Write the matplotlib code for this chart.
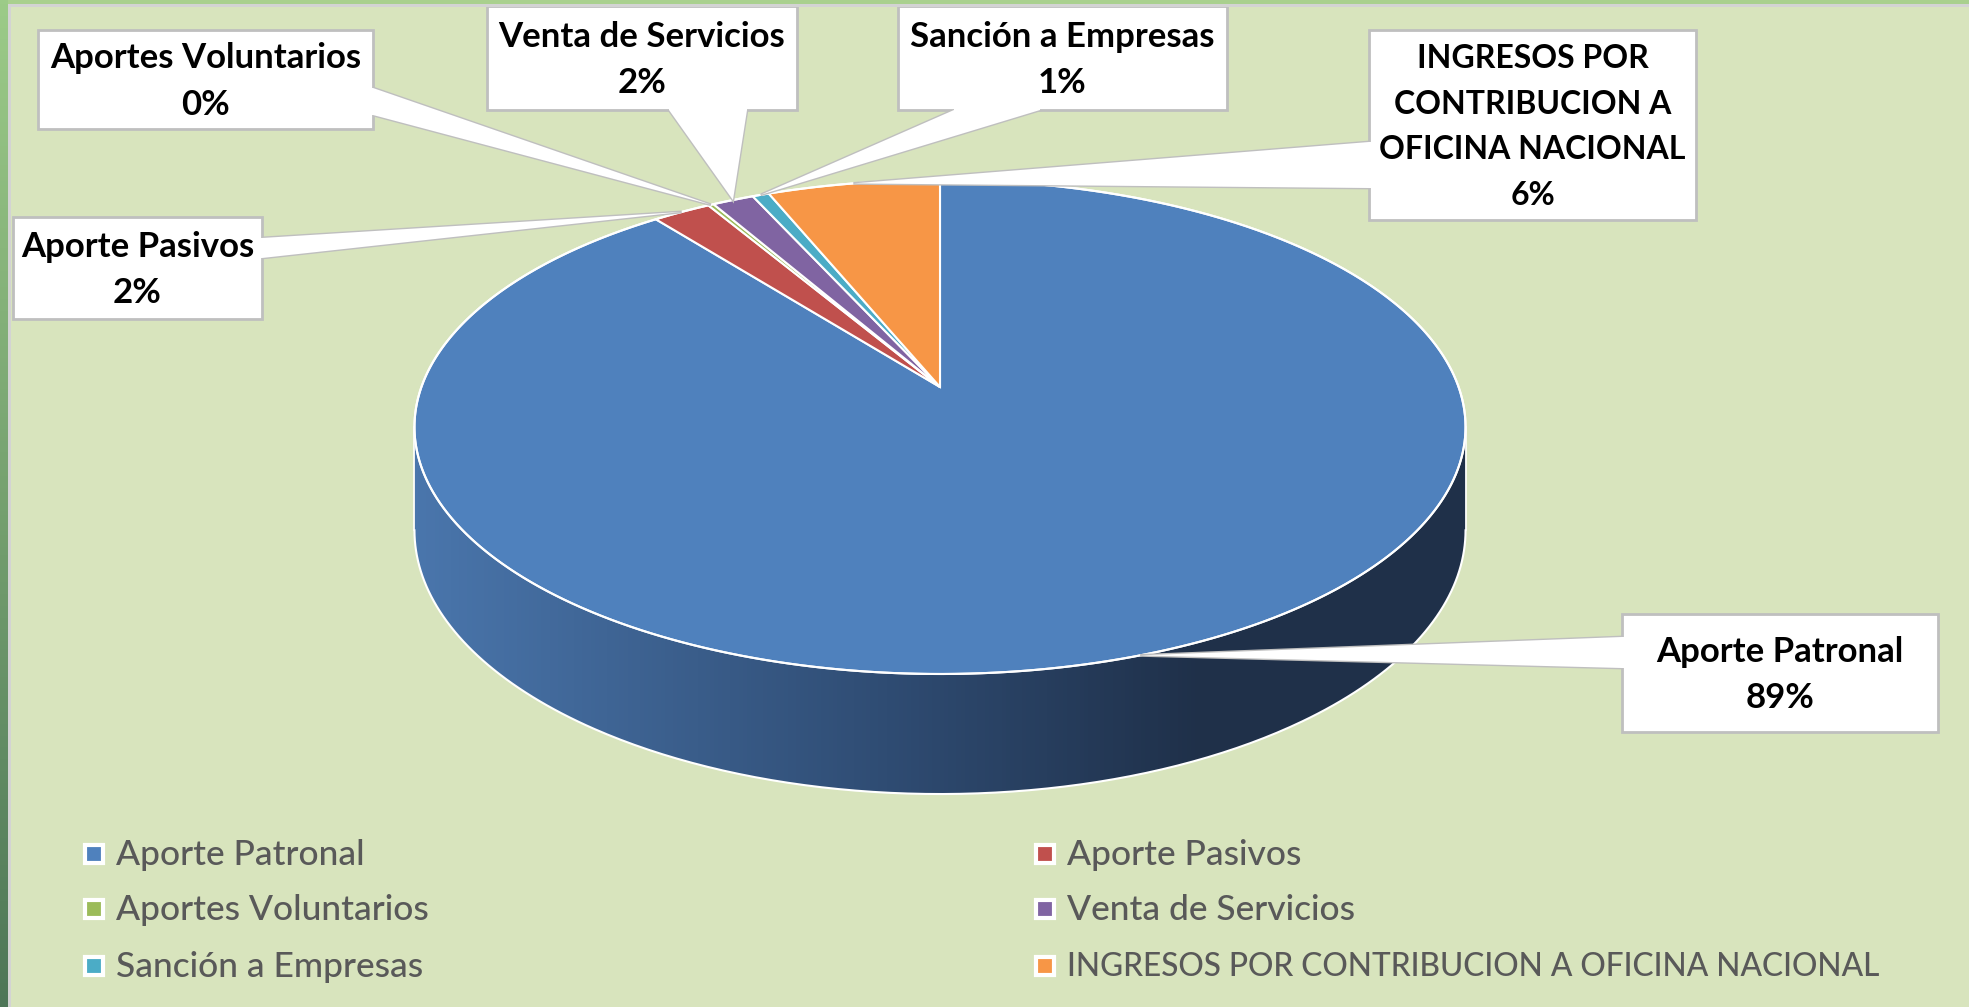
import numpy as np
import matplotlib
matplotlib.use('Agg')
import matplotlib.pyplot as plt
from matplotlib.patches import Polygon, Rectangle
from matplotlib.colors import LinearSegmentedColormap

# data (percent of total income)
labels = ['Aporte Patronal', 'Aporte Pasivos', 'Aportes Voluntarios',
          'Venta de Servicios', 'Sanción a Empresas',
          'INGRESOS POR CONTRIBUCION A OFICINA NACIONAL']
callout_labels = ['Aporte Patronal', 'Aporte Pasivos', 'Aportes Voluntarios',
                  'Venta de Servicios', 'Sanción a Empresas',
                  'INGRESOS POR\nCONTRIBUCION A\nOFICINA NACIONAL']
shares = [89.4, 2.1, 0.2, 1.5, 0.6, 6.2]
colors = ['#4F81BD', '#C0504D', '#9BBB59', '#8064A2', '#4BACC6', '#F79646']

# label boxes (x0, y0, x1, y1) in pixels and where the pointer leaves the box
boxes = [(1622, 614, 1938, 732), (13, 217, 262, 319), (38, 30, 373, 129),
         (487, 6, 797, 110), (898, 6, 1227, 110), (1369, 30, 1696, 220)]
bases = [((1622, 637), (1622, 668)), ((262, 238), (262, 258)),
         ((373, 88), (373, 115)), ((669, 110), (747, 110)),
         ((954, 110), (1040, 110)), ((1369, 142), (1369, 188))]
# the all-caps label is narrower in the original font, so it gets a smaller size here
callout_size = [25, 25, 25, 25, 25, 23]
legend_size = [25.5, 25.5, 25.5, 25.5, 25.5, 22.8]

BG = '#D8E4BD'
W, Hh = 1969, 1007

fig = plt.figure(figsize=(W / 100, Hh / 100), dpi=100)
fig.patch.set_facecolor(BG)
ax = fig.add_axes([0, 0, 1, 1])
ax.set_facecolor(BG)

# simple perspective projection of the pie disc
cx, y0 = 940, 387
A, B, k, depth = 518.6, 240.5, 0.162, 100.6


def proj(theta, h=0.0):
    u, v = np.sin(theta), np.cos(theta)
    s = 1 + k * v
    return cx + A * u / s, y0 + (-B * v + h) / s


# side wall (front half only, all of it belongs to Aporte Patronal)
tr = np.arccos(-k)
th = np.linspace(tr, 2 * np.pi - tr, 300)
tx, ty = proj(th)
bx, by = proj(th[::-1], depth)
wall = Polygon(np.column_stack([np.r_[tx, bx], np.r_[ty, by]]),
               facecolor='none', edgecolor='none')
ax.add_patch(wall)
wall_cmap = LinearSegmentedColormap.from_list(
    'wall', [(0, '#4A76AC'), (0.45, '#2F4C73'), (0.75, '#1F3049'), (1, '#1F3049')])
grad = np.linspace(0, 1, 256).reshape(1, -1)
img = ax.imshow(grad, cmap=wall_cmap, extent=(tx.min(), tx.max(), by.max() + 5, ty.min() - 5),
                aspect='auto', zorder=1)
img.set_clip_path(wall)
ax.plot(bx, by, color='white', lw=1.5, zorder=2)
ax.plot([tx[0], bx[-1]], [ty[0], by[-1]], color='white', lw=1.2, zorder=2)
ax.plot([tx[-1], bx[0]], [ty[-1], by[0]], color='white', lw=1.2, zorder=2)

# top face slices, clockwise from 12 o'clock
fracs = np.array(shares) / sum(shares)
edges = np.r_[0, np.cumsum(fracs)] * 2 * np.pi
apex = (cx, y0)
tips = []
for i, c in enumerate(colors):
    t = np.linspace(edges[i], edges[i + 1], max(3, int(fracs[i] * 600)))
    px, py = proj(t)
    ax.add_patch(Polygon(np.column_stack([np.r_[apex[0], px], np.r_[apex[1], py]]),
                         facecolor=c, edgecolor='white', lw=1.5, zorder=3))
    tips.append(proj((edges[i] + edges[i + 1]) / 2))
ox, oy = proj(np.linspace(0, 2 * np.pi, 600))
ax.plot(ox, oy, color='white', lw=1.5, zorder=4)

# callouts
for i in range(len(labels)):
    x0, yb0, x1, yb1 = boxes[i]
    ax.add_patch(Rectangle((x0, yb0), x1 - x0, yb1 - yb0, facecolor='white',
                           edgecolor='#BFBFBF', lw=2, zorder=6))
    (b1x, b1y), (b2x, b2y) = bases[i]
    tx_, ty_ = tips[i]
    # push the base a bit into the box so the border is hidden there
    dx = np.sign((x0 + x1) / 2 - b1x) * 3 if b1x == b2x else 0
    dy = np.sign((yb0 + yb1) / 2 - b1y) * 3 if b1y == b2y else 0
    ax.add_patch(Polygon([(b1x + dx, b1y + dy), (b1x, b1y), (tx_, ty_), (b2x, b2y),
                          (b2x + dx, b2y + dy)], facecolor='white', edgecolor='none',
                         zorder=7))
    ax.plot([b1x, tx_, b2x], [b1y, ty_, b2y], color='#BFBFBF', lw=2, zorder=5,
            solid_joinstyle='miter')
    pct = f"{int(shares[i] / sum(shares) * 100 + 0.5)}%"
    ax.text((x0 + x1) / 2, (yb0 + yb1) / 2 + 2, callout_labels[i] + '\n' + pct,
            ha='center', va='center', fontsize=callout_size[i], fontweight='bold',
            family='Lato', linespacing=1.55 * 25 / callout_size[i], color='black',
            zorder=8)

# legend
leg_x = [94, 1045]
leg_y = [854, 909, 966]
for i, lab in enumerate(labels):
    xm, ym = leg_x[i % 2], leg_y[i // 2]
    ax.add_patch(Rectangle((xm - 9, ym - 9), 18, 18, facecolor=colors[i],
                           edgecolor='white', lw=3, zorder=5))
    ax.text(xm + 22, ym + 1, lab, ha='left', va='center', fontsize=legend_size[i],
            fontweight='medium', family='Lato', color='#595959', zorder=5)

# slide frame strips
ax.add_patch(Rectangle((0, 0), W, 4, facecolor='#A9D08E', edgecolor='none', zorder=10))
ax.add_patch(Rectangle((0, 4), W, 3, facecolor='#D3D3D3', edgecolor='none', zorder=10))
side = LinearSegmentedColormap.from_list('side', ['#9CCB88', '#4E7657'])
ax.imshow(np.linspace(0, 1, 256).reshape(-1, 1), cmap=side, extent=(0, 8, Hh, 0),
          aspect='auto', zorder=11)
ax.add_patch(Rectangle((8, 4), 3, Hh, facecolor='#D3D3D3', edgecolor='none', zorder=10))

ax.set_xlim(0, W)
ax.set_ylim(Hh, 0)
ax.axis('off')
fig.savefig('out.png', dpi=100, facecolor=BG)
